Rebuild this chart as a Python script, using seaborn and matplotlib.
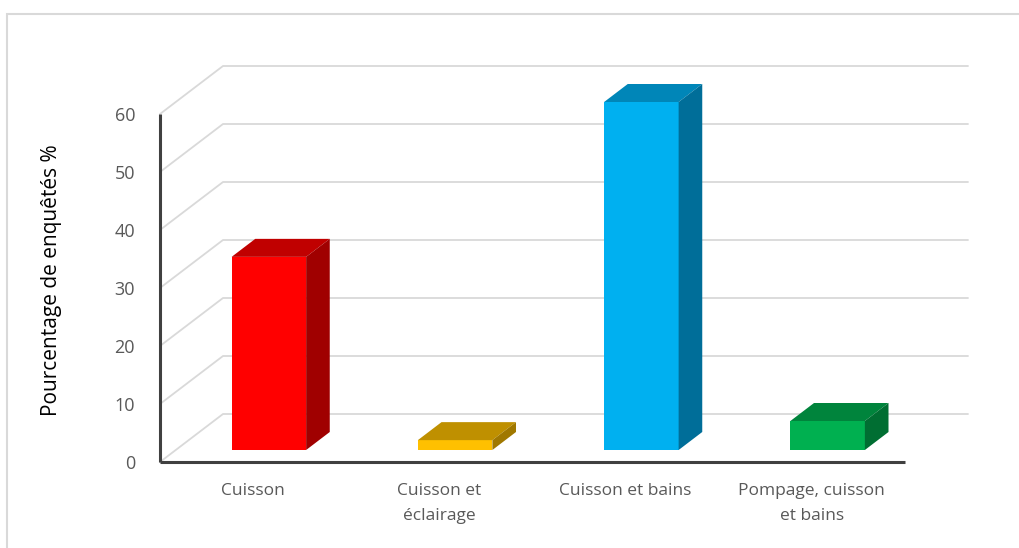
import numpy as np
import pandas as pd
import matplotlib
matplotlib.use("Agg")
import matplotlib.pyplot as plt
import seaborn as sns
from matplotlib.patches import Polygon, Rectangle

categories = ["Cuisson", "Cuisson et\néclairage", "Cuisson et bains", "Pompage, cuisson\net bains"]
values = [33.3, 1.7, 60.0, 5.0]
front_colors = ["#FF0000", "#FFC000", "#00B0F0", "#00B050"]
top_colors = ["#C00000", "#BF9000", "#0086B8", "#00843C"]
side_colors = ["#A00000", "#A07800", "#006E99", "#006E32"]
yticks = [0, 10, 20, 30, 40, 50, 60]
ylabel = "Pourcentage de enquêtés %"

sns.set_theme(style="white")
plt.rcParams['font.family'] = ['Open Sans', 'DejaVu Sans']

W, H = 1019, 548
fig = plt.figure(figsize=(W / 100, H / 100), dpi=100)
fig.patch.set_facecolor("white")

# outer chart border
fig.patches.append(Rectangle((7 / W, -0.05), 1.2, (H - 14) / H + 0.05,
                             transform=fig.transFigure, fill=False,
                             edgecolor="#d9d9d9", lw=1.5, clip_on=False))

ax = fig.add_axes([160 / W, (H - 462) / H, 808 / W, 396 / H])

# depth of the 3D box (in data units)
DX = 63 / 186.25
DY = 48 / 5.8
F = 0.25    # bar front offset within depth
B = 0.375   # bar depth fraction

df = pd.DataFrame({"cat": categories, "val": values})
sns.barplot(data=df, x="cat", y="val", hue="cat", palette=front_colors,
            width=0.4, legend=False, ax=ax, saturation=1, linewidth=0, zorder=3)

ax.set_xlim(-0.5, 3.5 + DX)
ax.set_ylim(0, 60 + DY)

# walls gridlines
for v in yticks:
    ax.plot([-0.5, -0.5 + DX, 3.5 + DX], [v, v + DY, v + DY],
            color="#d9d9d9", lw=1.3, zorder=0, clip_on=False)

# 3D faces of bars
for i, p in enumerate(ax.patches):
    p.set_x(p.get_x() + F * DX)
    p.set_y(p.get_y() + F * DY)
    x0 = p.get_x()
    x1 = x0 + p.get_width()
    y0 = p.get_y()
    y1 = y0 + p.get_height()
    bdx, bdy = B * DX, B * DY
    top = Polygon([(x0, y1), (x1, y1), (x1 + bdx, y1 + bdy), (x0 + bdx, y1 + bdy)],
                  closed=True, facecolor=top_colors[i], edgecolor="none", zorder=3)
    side = Polygon([(x1, y0), (x1 + bdx, y0 + bdy), (x1 + bdx, y1 + bdy), (x1, y1)],
                   closed=True, facecolor=side_colors[i], edgecolor="none", zorder=3)
    ax.add_patch(top)
    ax.add_patch(side)

# front axis lines
ax.plot([-0.5, -0.5], [0, 60], color="#404040", lw=2.2, zorder=4, clip_on=False,
        solid_capstyle="butt")
ax.plot([-0.5, 3.5], [0, 0], color="#404040", lw=2.2, zorder=4, clip_on=False,
        solid_capstyle="butt")

for s in ax.spines.values():
    s.set_visible(False)

ax.set_yticks(yticks)
ax.set_yticklabels([str(t) for t in yticks], color="#595959", fontsize=13)
ax.set_xticks(range(len(categories)))
ax.set_xticklabels(categories, color="#595959", fontsize=12.5, linespacing=1.75)
ax.tick_params(axis="y", length=0, pad=18)
ax.tick_params(axis="x", length=0, pad=15)
ax.set_xlabel("")
ax.set_ylabel(ylabel, fontsize=15, color="black")
ax.yaxis.set_label_coords(-0.121, 0.46)
ax.set_facecolor("white")

fig.savefig("out.png", dpi=100)
